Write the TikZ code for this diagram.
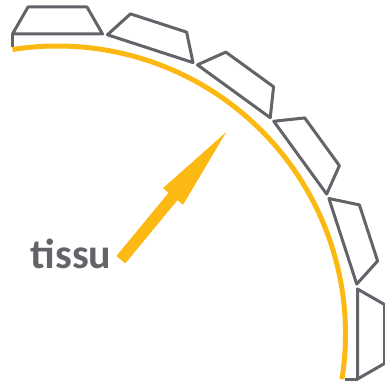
\documentclass[tikz,border=0pt]{standalone}
\usepackage{fontspec}
\setmainfont{Carlito}
\definecolor{orangeVif}{RGB}{253,185,19}
\definecolor{grisFonce}{RGB}{99,100,105}

\begin{document}
\begin{tikzpicture}[x=1pt, y=1pt]
\tikzset{
    dent/.style={draw=grisFonce, line width=3pt, line join=round,
                 shift={(57.5,49)}, rotate=#1},
    trait/.style={draw=grisFonce, line width=3pt, shift={(57.5,49)}, rotate=#1},
    arcOrange/.style={draw=orangeVif, line width=5pt},
    fleche/.style={fill=orangeVif, draw=orangeVif, line width=0.5pt, line join=miter},
    texte/.style={text=grisFonce, inner sep=0pt, anchor=base west,
                  font=\fontsize{42}{50}\selectfont\bfseries}
}
\useasboundingbox (0,0) rectangle (385,383);

% Centre de la roue
\coordinate (centre) at (57.5,49);

% Dents
\draw[dent=0]   (-45,300) -- (-29.5,327) -- (29.5,327) -- (45,300) -- cycle;
\draw[dent=-18] (-45,300) -- (-29.5,327) -- (29.5,327) -- (45,300) -- cycle;
\draw[dent=-36] (-45,300) -- (-29.5,327) -- (29.5,327) -- (45,300) -- cycle;
\draw[dent=-54] (-45,300) -- (-29.5,327) -- (29.5,327) -- (45,300) -- cycle;
\draw[dent=-72] (-45,300) -- (-29.5,327) -- (29.5,327) -- (45,300) -- cycle;
\draw[dent=-90] (-45,300) -- (-29.5,327) -- (29.5,327) -- (45,300) -- cycle;

% Petits traits vers l'arc
\draw[trait=0]   (-45,300) -- (-45,287);
\draw[trait=-90] (45,300) -- (45,287);

% Arc
\draw[arcOrange] (centre) ++(99:288) arc[start angle=99, end angle=-9, radius=288];

% Flèche
\coordinate (queue) at (121,123.5);
\path[fleche, shift={(queue)}, rotate=50.46]
    (0,-5.5) -- (82,-5.5) -- (82,-12.7) -- (163.4,0) -- (82,12.7) -- (82,5.5) -- (0,5.5) -- cycle;

% Texte
\node[texte] (tissu) at (30.5,115) {tissu};
\end{tikzpicture}
\end{document}
